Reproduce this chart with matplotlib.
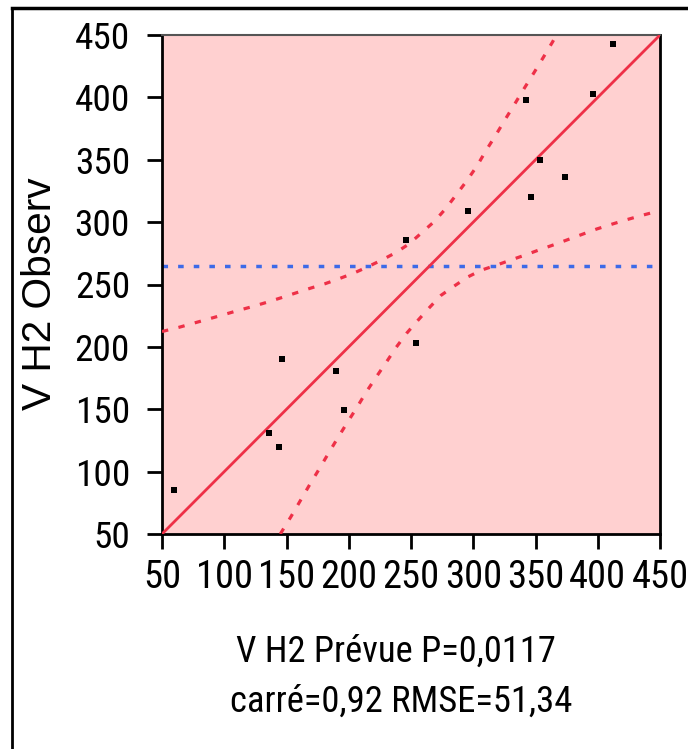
import matplotlib
matplotlib.use('Agg')
import matplotlib.pyplot as plt
from matplotlib.lines import Line2D
from matplotlib import font_manager as fm
from matplotlib.textpath import TextPath

# ---- data ----
pred = [60, 136, 144, 146, 190, 196, 246, 254, 296, 342, 346, 354, 374, 396, 412]
obs = [85, 131, 120, 190, 181, 149, 286, 203, 309, 398, 320, 350, 336, 403, 443]
mean_obs = 265
fit_x = [50, 450]
fit_y = [50, 450]
upper_x = [50, 63.7, 75.1, 87.2, 98.8, 110.5, 122.3, 134.1, 145.8, 157.4, 169.1, 180.9,
           192.4, 204.2, 214.4, 226.5, 237.7, 248.4, 258.6, 268.5, 277.6, 286.4, 294.7,
           303, 310.2, 318, 325.7, 333.3, 340.8, 348.8, 356.3, 363.8, 366.7]
upper_y = [212.3, 215.7, 218.9, 222.3, 225.6, 229, 232.2, 235.7, 239.4, 243.2, 247, 250.6,
           254.7, 259.2, 263.8, 269.6, 275.5, 282.5, 291.5, 300.3, 310.5, 322, 333,
           345, 357.3, 369.6, 382.4, 394.7, 407, 419.8, 432.1, 444.6, 450]
lower_x = [145, 153.4, 160.8, 168.3, 175.9, 183.3, 190.8, 198.6, 206.4, 213.9, 221.9, 229.9,
           238, 246.5, 255.5, 264.7, 274.1, 284.8, 295.5, 306.8, 318.3, 330.1, 341.6, 353.4,
           364.9, 399.2, 411.2, 422.4, 434.7, 446.8, 450]
lower_y = [50, 63.6, 76.2, 89, 101.5, 114, 126.4, 139, 151.2, 163.6, 175.6, 187.3,
           199.5, 210.9, 221.2, 231.4, 241.3, 248.8, 256, 261.6, 265.4, 269.6, 273.6, 277.9,
           281.9, 294.5, 298.3, 301.7, 305.2, 308.4, 309.2]
ticks = [50, 100, 150, 200, 250, 300, 350, 400, 450]
xlabel_1 = 'V H2 Prévue P=0,0117'
xlabel_2 = 'carré=0,92 RMSE=51,34'
ylabel = 'V H2 Observ'

W, H = 688, 749


def _regular(f):
    return f.style == 'normal' and f.weight in (400, 'normal', 'regular', 'book')


def pick_condensed():
    fl = fm.fontManager.ttflist
    for n in ['Liberation Sans Narrow', 'Arial Narrow', 'Roboto Condensed',
              'Open Sans Condensed', 'Noto Sans Condensed', 'DejaVu Sans Condensed']:
        for f in fl:
            if f.name == n and _regular(f):
                return fm.FontProperties(fname=f.fname)
    for base in ['Liberation Sans', 'Roboto', 'Noto Sans', 'DejaVu Sans', 'Open Sans', 'Lato']:
        for f in fl:
            if f.name == base and _regular(f) and f.stretch in (
                    'condensed', 'semi-condensed', 'extra-condensed', 600, 700):
                if 'ondensed' in f.fname or 'arrow' in f.fname:
                    return fm.FontProperties(fname=f.fname)
    for f in fl:
        if _regular(f) and ('Narrow' in f.name or 'Condensed' in f.name) and 'Mono' not in f.name \
                and 'Serif' not in f.name:
            return fm.FontProperties(fname=f.fname)
    return None


reg_fp = fm.FontProperties(family=['Liberation Sans', 'DejaVu Sans'])
cond_fp = pick_condensed()
narrow_fp = cond_fp if cond_fp is not None else reg_fp


def size_for(text, fp, target_px):
    w = TextPath((0, 0), text, size=10, prop=fp).get_extents().width  # points at size 10
    return 10 * target_px / (w * 100 / 72)


def with_size(fp, size):
    p = fp.copy()
    p.set_size(size)
    return p


ytick_size = min(size_for('450', narrow_fp, 52), 28)
xtick_size = min(size_for('100', narrow_fp, 52), 28)
xl1_size = min(size_for(xlabel_1, narrow_fp, 318), 28)
xl2_size = min(size_for(xlabel_2, narrow_fp, 340), 28)
yl_size = min(size_for(ylabel, reg_fp, 232), 30)

fig = plt.figure(figsize=(W / 100, H / 100), dpi=100)
fig.patch.set_facecolor('white')

ax = fig.add_axes([162 / W, 1 - 534 / H, 498 / W, 499 / H])
ax.set_facecolor('#FFD0D0')
ax.set_xlim(50, 450)
ax.set_ylim(50, 450)

red = '#EE3047'
ax.plot(fit_x, fit_y, color=red, lw=2.0, solid_capstyle='butt', zorder=3)
ax.plot(upper_x, upper_y, color=red, lw=2.3, ls=(0, (2.0, 3.3)), zorder=3)
ax.plot(lower_x, lower_y, color=red, lw=2.3, ls=(0, (2.0, 3.3)), zorder=3)
ax.axhline(mean_obs, color='#3D6AE8', lw=2.5, ls=(0, (1.6, 2.9)), zorder=2)
ax.plot(pred, obs, 's', ms=4.5, color='black', mew=0, zorder=4)

ax.set_xticks(ticks)
ax.set_yticks(ticks)
ax.set_xticklabels([str(t) for t in ticks])
ax.set_yticklabels([str(t) for t in ticks])
ax.tick_params(axis='both', direction='out', length=11, width=2, color='black')
ax.tick_params(axis='y', pad=12)
ax.tick_params(axis='x', pad=7)
for lab in ax.get_yticklabels():
    lab.set_fontproperties(with_size(narrow_fp, ytick_size))
for lab in ax.get_xticklabels():
    lab.set_fontproperties(with_size(narrow_fp, xtick_size))

for s in ['left', 'bottom', 'right']:
    ax.spines[s].set_color('black')
    ax.spines[s].set_linewidth(2)
ax.spines['top'].set_color('#555555')
ax.spines['top'].set_linewidth(1.5)

fig.text(40 / W, 1 - 294 / H, ylabel, rotation=90, ha='center', va='center',
         fontproperties=with_size(reg_fp, yl_size))
fig.text(396 / W, 1 - 662 / H, xlabel_1, ha='center', va='baseline',
         fontproperties=with_size(narrow_fp, xl1_size))
fig.text(401 / W, 1 - 712 / H, xlabel_2, ha='center', va='baseline',
         fontproperties=with_size(narrow_fp, xl2_size))

fig.add_artist(Line2D([12 / W, 1], [1 - 8 / H, 1 - 8 / H], transform=fig.transFigure,
                      color='black', lw=2.5))
fig.add_artist(Line2D([12 / W, 12 / W], [1 - 8 / H, 0], transform=fig.transFigure,
                      color='black', lw=2))

fig.savefig('out.png', dpi=100)
